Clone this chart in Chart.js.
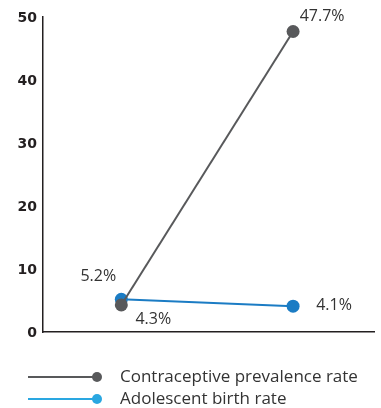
<!DOCTYPE html>
<html>
<head>
<meta charset="utf-8">
<script src="https://cdn.jsdelivr.net/npm/chart.js@4/dist/chart.umd.min.js"></script>
<style>
  html, body { margin: 0; padding: 0; background: #fff; }
  #wrap { width: 381px; height: 408px; position: relative; }
</style>
</head>
<body>
<div id="wrap"><canvas id="c" width="381" height="408"></canvas></div>
<script>
// Two survey points per indicator
const periods = [1, 2];
const seriesNames = ['Contraceptive prevalence rate', 'Adolescent birth rate'];
const contraceptiveRate = [4.3, 47.7];
const adolescentBirthRate = [5.2, 4.1];
const yTicks = [0, 10, 20, 30, 40, 50];

const GRAY = '#58595b';
const BLUE = '#1b7cc4';
const BLUE_LEGEND = '#2aa7e1';
const TEXT = '#333333';

// label placement (dx, dy) per point, relative to the marker centre
const labelOffsets = [
  [[32, 15], [29, -15]],
  [[-23, -23], [41, -1]]
];

const valueLabels = {
  id: 'valueLabels',
  afterDatasetsDraw(chart) {
    const ctx = chart.ctx;
    ctx.save();
    ctx.font = '16px "Open Sans", sans-serif';
    ctx.fillStyle = TEXT;
    ctx.textAlign = 'center';
    ctx.textBaseline = 'middle';
    chart.data.datasets.forEach((ds, di) => {
      chart.getDatasetMeta(di).data.forEach((pt, i) => {
        const off = labelOffsets[di][i];
        ctx.fillText(ds.data[i].y.toFixed(1) + '%', pt.x + off[0], pt.y + off[1]);
      });
    });
    ctx.restore();
  }
};

const lineLegend = {
  id: 'lineLegend',
  afterDraw(chart) {
    const ctx = chart.ctx;
    const colors = [GRAY, BLUE_LEGEND];
    ctx.save();
    seriesNames.forEach((name, i) => {
      const y = 377 + i * 22;
      ctx.strokeStyle = colors[i];
      ctx.lineWidth = 2;
      ctx.beginPath();
      ctx.moveTo(28, y);
      ctx.lineTo(97, y);
      ctx.stroke();
      ctx.fillStyle = colors[i];
      ctx.beginPath();
      ctx.arc(97, y, 5, 0, Math.PI * 2);
      ctx.fill();
      ctx.fillStyle = TEXT;
      ctx.font = '17px "Open Sans", sans-serif';
      ctx.textAlign = 'left';
      ctx.textBaseline = 'middle';
      ctx.fillText(name, 120, y);
    });
    ctx.restore();
  }
};

const toPoints = vals => vals.map((v, i) => ({ x: periods[i], y: v }));

new Chart(document.getElementById('c'), {
  type: 'line',
  data: {
    datasets: [
      {
        label: seriesNames[0],
        data: toPoints(contraceptiveRate),
        borderColor: GRAY,
        backgroundColor: GRAY,
        borderWidth: 2,
        pointRadius: 6.5,
        pointHoverRadius: 6.5,
        pointBorderWidth: 0
      },
      {
        label: seriesNames[1],
        data: toPoints(adolescentBirthRate),
        borderColor: BLUE,
        backgroundColor: BLUE,
        borderWidth: 2,
        pointRadius: 6.5,
        pointHoverRadius: 6.5,
        pointBorderWidth: 0
      }
    ]
  },
  options: {
    responsive: false,
    animation: false,
    events: [],
    layout: { padding: { top: 17, right: 6, bottom: 76, left: 0 } },
    plugins: {
      legend: { display: false },
      tooltip: { enabled: false }
    },
    scales: {
      x: {
        type: 'linear',
        min: 0.544,
        max: 2.474,
        grid: { display: false },
        border: { display: true, color: '#231f20', width: 1.5 },
        ticks: { display: false },
        afterFit(scale) { scale.height = 0; }
      },
      y: {
        min: 0,
        max: 50,
        afterBuildTicks(scale) { scale.ticks = yTicks.map(v => ({ value: v })); },
        grid: { display: false, drawTicks: false, tickLength: 0 },
        border: { display: true, color: '#231f20', width: 1.5 },
        ticks: {
          color: '#231f20',
          padding: 6,
          labelOffset: 1.5,
          font: { family: '"DejaVu Sans", sans-serif', size: 14, weight: 'bold' }
        },
        afterFit(scale) { scale.width = 43; }
      }
    }
  },
  plugins: [valueLabels, lineLegend]
});
</script>
</body>
</html>
